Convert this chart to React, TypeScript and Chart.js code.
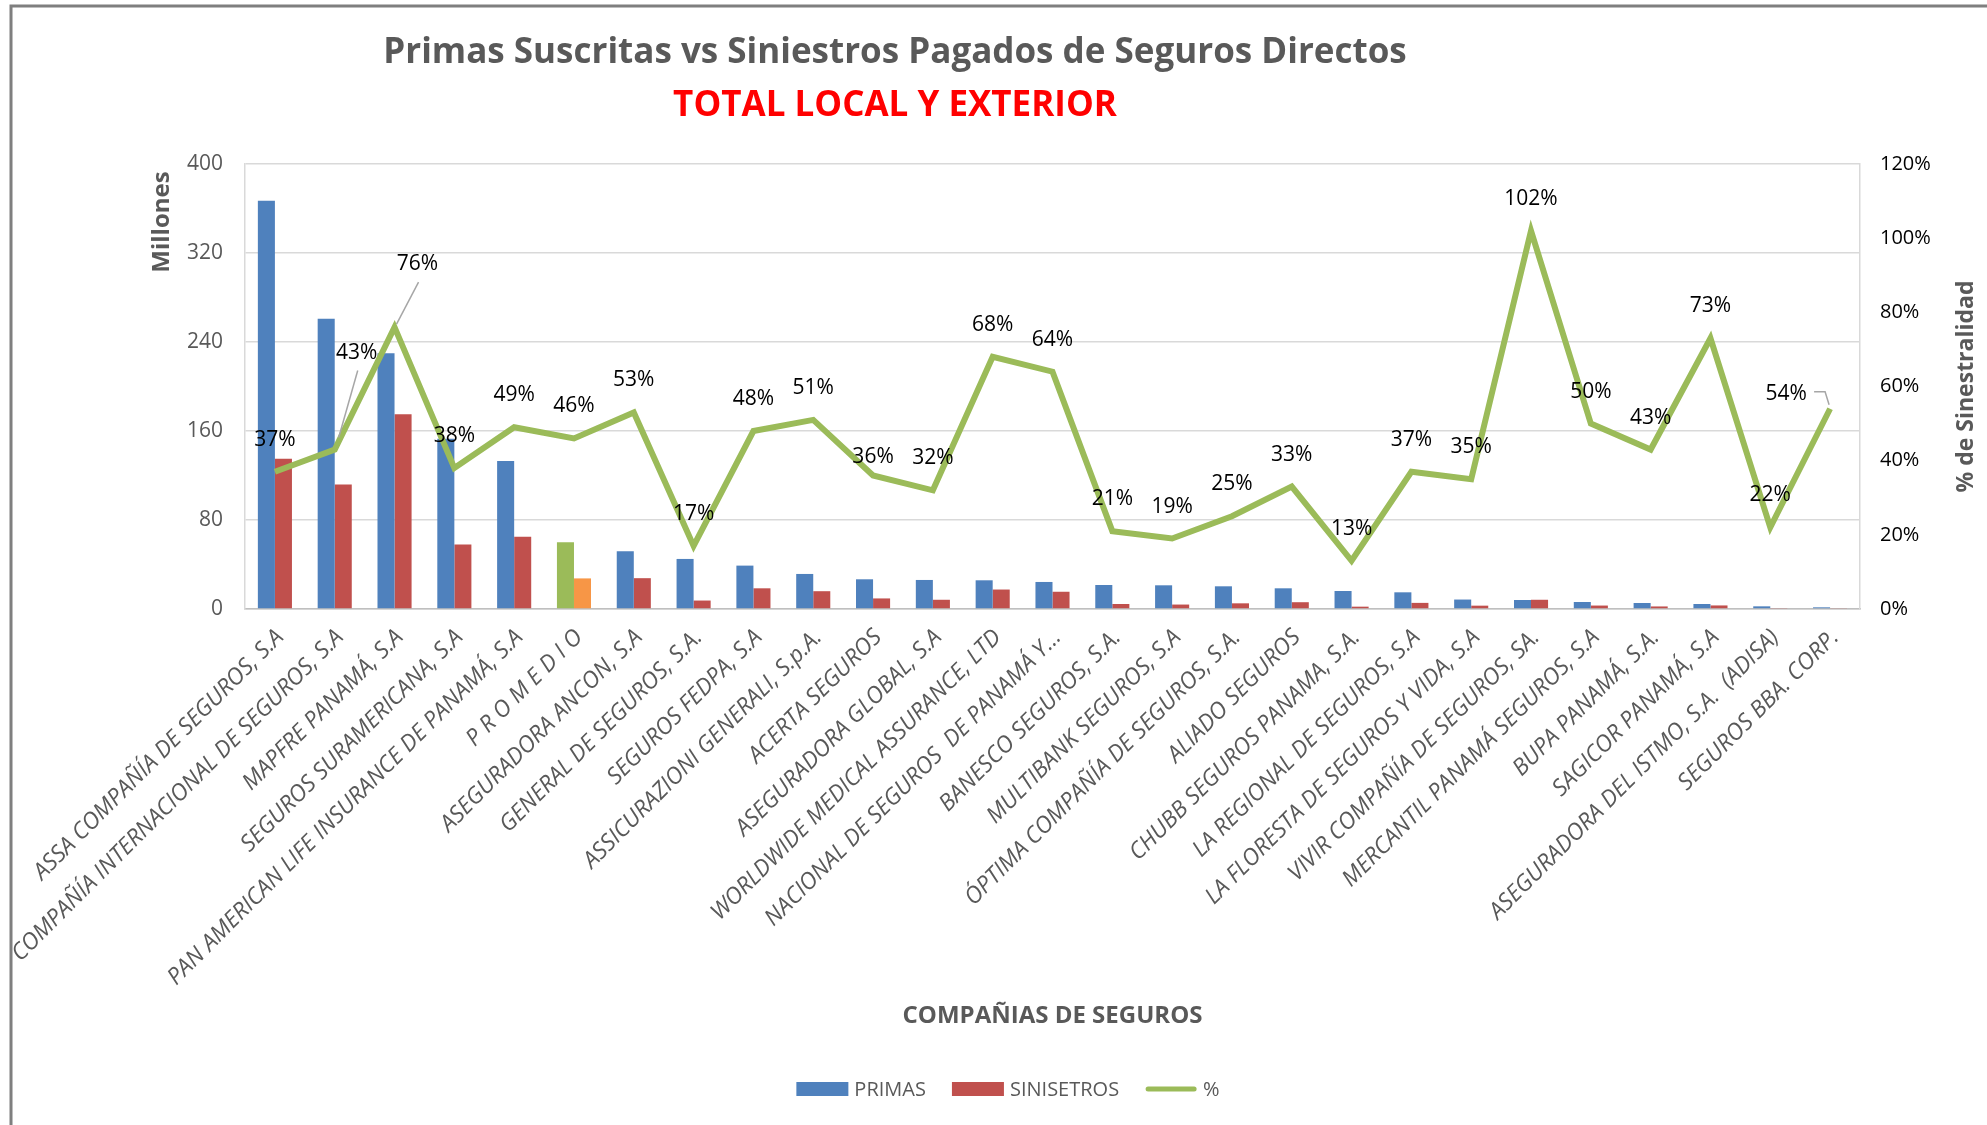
import React, { useEffect, useRef } from "react";
import { Chart, registerables } from "chart.js";

Chart.register(...registerables);

const categories: string[] = [
  "ASSA COMPAÑÍA DE SEGUROS, S.A",
  "COMPAÑÍA INTERNACIONAL DE SEGUROS, S.A",
  "MAPFRE PANAMÁ, S.A",
  "SEGUROS SURAMERICANA, S.A",
  "PAN AMERICAN LIFE INSURANCE DE PANAMÁ, S.A",
  "P R O M E D I O",
  "ASEGURADORA ANCON, S.A",
  "GENERAL DE SEGUROS, S.A.",
  "SEGUROS FEDPA, S.A",
  "ASSICURAZIONI GENERALI, S.p.A.",
  "ACERTA SEGUROS",
  "ASEGURADORA GLOBAL, S.A",
  "WORLDWIDE MEDICAL ASSURANCE, LTD",
  "NACIONAL DE SEGUROS  DE PANAMÁ Y…",
  "BANESCO SEGUROS, S.A.",
  "MULTIBANK SEGUROS, S.A",
  "ÓPTIMA COMPAÑÍA DE SEGUROS, S.A.",
  "ALIADO SEGUROS",
  "CHUBB SEGUROS PANAMA, S.A.",
  "LA REGIONAL DE SEGUROS, S.A",
  "LA FLORESTA DE SEGUROS Y VIDA, S.A",
  "VIVIR COMPAÑÍA DE SEGUROS, SA.",
  "MERCANTIL PANAMÁ SEGUROS, S.A",
  "BUPA PANAMÁ, S.A.",
  "SAGICOR PANAMÁ, S.A",
  "ASEGURADORA DEL ISTMO, S.A.  (ADISA)",
  "SEGUROS BBA. CORP.",
];

// Millones
const primas: number[] = [
  367, 261, 230, 153, 133, 60, 52, 45, 39, 31.5, 26.7, 26.1, 25.8, 24.3, 21.6,
  21.3, 20.4, 18.6, 16.2, 15, 8.5, 8.1, 6.3, 5.4, 4.5, 2.4, 1.5,
];
const siniestros: number[] = [
  135, 112, 175, 58, 65, 27.5, 27.7, 7.6, 18.6, 16, 9.5, 8.3, 17.5, 15.5, 4.5,
  4, 5.1, 6.1, 2.1, 5.5, 3, 8.3, 3.1, 2.3, 3.2, 0.5, 0.8,
];
// % de siniestralidad
const pct: number[] = [
  37, 43, 76, 38, 49, 46, 53, 17, 48, 51, 36, 32, 68, 64, 21, 19, 25, 33, 13, 37,
  35, 102, 50, 43, 73, 22, 54,
];

const seriesNames: string[] = ["PRIMAS", "SINISETROS", "%"];
const promedioIndex = 5;

const leftAxis = { min: 0, max: 400, step: 80 };
const rightAxis = { min: 0, max: 120, step: 20 };

const titleText = "Primas Suscritas vs Siniestros Pagados de Seguros Directos";
const subtitleText = "TOTAL LOCAL Y EXTERIOR";
const xTitle = "COMPAÑIAS DE SEGUROS";
const yTitle = "Millones";
const y2Title = "% de Sinestralidad";

// label placement tweaks (pixels, relative to the point)
const defaultLabelShift: [number, number] = [0, -32];
const labelShift: Record<number, [number, number]> = {
  1: [22, -97],
  2: [23, -63],
  10: [0, -18],
  26: [-44, -15],
};
const leaderLines: Record<number, [number, number][]> = {
  1: [
    [23, -79],
    [4, -12],
  ],
  2: [
    [24, -45],
    [2, -3],
  ],
  26: [
    [-16, -17],
    [-5, -17],
    [-1, -4],
  ],
};

const FONT = "'Open Sans', 'Noto Sans', 'DejaVu Sans', sans-serif";
const BLUE = "#4F81BD";
const RED = "#C0504D";
const GREEN = "#9BBB59";
const ORANGE = "#F79646";
const GRAY_TEXT = "#595959";

const W = 1987;
const H = 1125;
const PLOT_LEFT = 245;
const PLOT_RIGHT = 1860;
const PLOT_TOP = 164;
const PLOT_BOTTOM = 609;

const overlayPlugin = {
  id: "overlay",
  afterDatasetsDraw(chart: any) {
    const ctx = chart.ctx as CanvasRenderingContext2D;
    const meta = chart.getDatasetMeta(2);
    ctx.save();
    meta.data.forEach((pt: any, i: number) => {
      const lead = leaderLines[i];
      if (lead) {
        ctx.beginPath();
        ctx.strokeStyle = "#A6A6A6";
        ctx.lineWidth = 1.5;
        lead.forEach(([lx, ly], k) => {
          if (k === 0) ctx.moveTo(pt.x + lx, pt.y + ly);
          else ctx.lineTo(pt.x + lx, pt.y + ly);
        });
        ctx.stroke();
      }
    });
    ctx.font = `21px ${FONT}`;
    ctx.fillStyle = "#000000";
    ctx.textAlign = "center";
    ctx.textBaseline = "middle";
    meta.data.forEach((pt: any, i: number) => {
      const [dx, dy] = labelShift[i] ?? defaultLabelShift;
      ctx.fillText(`${pct[i]}%`, pt.x + dx, pt.y + dy);
    });
    ctx.restore();
  },
  afterDraw(chart: any) {
    const ctx = chart.ctx as CanvasRenderingContext2D;
    const area = chart.chartArea;
    ctx.save();
    // outer frame
    ctx.strokeStyle = "#7F7F7F";
    ctx.lineWidth = 3;
    ctx.beginPath();
    ctx.moveTo(11, H);
    ctx.lineTo(11, 6);
    ctx.lineTo(W, 6);
    ctx.stroke();

    // titles
    ctx.textAlign = "center";
    ctx.textBaseline = "middle";
    ctx.fillStyle = GRAY_TEXT;
    ctx.font = `bold 35px ${FONT}`;
    ctx.fillText(titleText, 895, 53);
    ctx.fillStyle = "#FF0000";
    ctx.font = `bold 35px ${FONT}`;
    ctx.fillText(subtitleText, 895, 106);

    // axis titles
    ctx.fillStyle = GRAY_TEXT;
    ctx.font = `bold 24px ${FONT}`;
    ctx.fillText(xTitle, (area.left + area.right) / 2, 1016);

    ctx.save();
    ctx.translate(162, 222);
    ctx.rotate(-Math.PI / 2);
    ctx.fillText(yTitle, 0, 0);
    ctx.restore();

    ctx.save();
    ctx.font = `bold 23px ${FONT}`;
    ctx.translate(1966, (area.top + area.bottom) / 2);
    ctx.rotate(-Math.PI / 2);
    ctx.fillText(y2Title, 0, 0);
    ctx.restore();

    // legend
    ctx.font = `20px ${FONT}`;
    ctx.textAlign = "left";
    const boxW = 52;
    const boxH = 14;
    const gapBox = 6;
    const gapItem = 26;
    const ly = 1089;
    const widths = seriesNames.map(
      (n) => boxW + gapBox + ctx.measureText(n).width
    );
    const total = widths.reduce((a, b) => a + b, 0) + gapItem * (widths.length - 1);
    let x = 1008 - total / 2;
    const colors = [BLUE, RED, GREEN];
    seriesNames.forEach((name, i) => {
      if (i < 2) {
        ctx.fillStyle = colors[i];
        ctx.fillRect(x, ly - boxH / 2, boxW, boxH);
      } else {
        ctx.strokeStyle = colors[i];
        ctx.lineWidth = 5;
        ctx.lineCap = "round";
        ctx.beginPath();
        ctx.moveTo(x + 3, ly);
        ctx.lineTo(x + boxW - 3, ly);
        ctx.stroke();
      }
      ctx.fillStyle = GRAY_TEXT;
      ctx.fillText(name, x + boxW + gapBox, ly + 1);
      x += widths[i] + gapItem;
    });
    ctx.restore();
  },
};

export default function App() {
  const canvasRef = useRef<HTMLCanvasElement | null>(null);

  useEffect(() => {
    const canvas = canvasRef.current;
    if (!canvas) return;
    const chart = new Chart(canvas, {
      type: "bar",
      data: {
        labels: categories,
        datasets: [
          {
            type: "bar",
            label: seriesNames[0],
            data: primas,
            backgroundColor: categories.map((_, i) =>
              i === promedioIndex ? GREEN : BLUE
            ),
            yAxisID: "y",
            order: 1,
            categoryPercentage: 0.57,
            barPercentage: 1,
          },
          {
            type: "bar",
            label: seriesNames[1],
            data: siniestros,
            backgroundColor: categories.map((_, i) =>
              i === promedioIndex ? ORANGE : RED
            ),
            yAxisID: "y",
            order: 1,
            categoryPercentage: 0.57,
            barPercentage: 1,
          },
          {
            type: "line",
            label: seriesNames[2],
            data: pct,
            borderColor: GREEN,
            backgroundColor: GREEN,
            borderWidth: 6,
            pointRadius: 0,
            tension: 0,
            yAxisID: "y2",
            order: 0,
          } as any,
        ],
      },
      options: {
        responsive: false,
        animation: false,
        devicePixelRatio: 1,
        layout: { padding: { top: PLOT_TOP, left: 0, right: 0, bottom: 0 } },
        plugins: {
          legend: { display: false },
          title: { display: false },
          tooltip: { enabled: false },
        },
        scales: {
          x: {
            grid: { display: false, drawTicks: false },
            border: { display: true, color: "#BFBFBF", width: 1.5 },
            ticks: {
              autoSkip: false,
              minRotation: 45,
              maxRotation: 45,
              padding: 15,
              labelOffset: 5,
              color: GRAY_TEXT,
              font: { family: FONT, size: 23, style: "italic" },
            },
            afterFit: (scale: any) => {
              scale.height = H - PLOT_BOTTOM;
            },
          },
          y: {
            position: "left",
            min: leftAxis.min,
            max: leftAxis.max,
            ticks: {
              stepSize: leftAxis.step,
              padding: 22,
              color: GRAY_TEXT,
              font: { family: FONT, size: 21 },
            },
            grid: { color: "#D9D9D9", lineWidth: 1.5, drawTicks: false },
            border: { display: true, color: "#D9D9D9", width: 1.5 },
            afterFit: (scale: any) => {
              scale.width = PLOT_LEFT;
            },
          },
          y2: {
            position: "right",
            min: rightAxis.min,
            max: rightAxis.max,
            ticks: {
              stepSize: rightAxis.step,
              padding: 20,
              color: "#000000",
              font: { family: FONT, size: 20 },
              callback: (v: any) => `${v}%`,
            },
            grid: { drawOnChartArea: false, drawTicks: false },
            border: { display: true, color: "#D9D9D9", width: 1.5 },
            afterFit: (scale: any) => {
              scale.width = W - PLOT_RIGHT;
            },
          },
        },
      },
      plugins: [overlayPlugin],
    });
    return () => chart.destroy();
  }, []);

  return (
    <div
      style={{
        position: "fixed",
        left: 0,
        top: 0,
        width: W,
        height: H,
        background: "#ffffff",
      }}
    >
      <canvas ref={canvasRef} width={W} height={H} style={{ width: W, height: H, display: "block" }} />
    </div>
  );
}
